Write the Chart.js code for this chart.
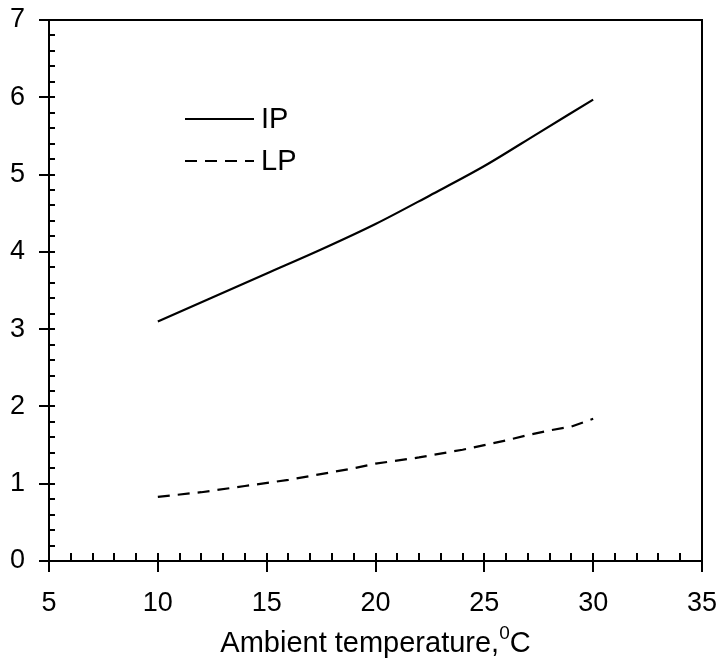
<!DOCTYPE html>
<html>
<head>
<meta charset="utf-8">
<script src="https://cdn.jsdelivr.net/npm/chart.js@4/dist/chart.umd.min.js"></script>
<style>
    html, body { margin: 0; padding: 0; background: #fff; }
    #wrap { width: 721px; height: 659px; }
</style>
</head>
<body>
<div id="wrap"><canvas id="tempChart" width="721" height="659"></canvas></div>
<script>
// values
const ipTemps = [10, 12.5, 15, 17.5, 20, 22.5, 25, 27.5, 30];
const ipValues = [3.10, 3.41, 3.72, 4.03, 4.36, 4.73, 5.11, 5.54, 5.97];

const lpTemps = [10, 12, 14, 16, 18, 19, 20, 22, 24, 25, 26, 27, 28, 29, 30];
const lpValues = [0.83, 0.89, 0.97, 1.05, 1.15, 1.20, 1.26, 1.34, 1.44, 1.50, 1.56, 1.63, 1.69, 1.74, 1.84];

const xTicks = [5, 10, 15, 20, 25, 30, 35];
const yTicks = [0, 1, 2, 3, 4, 5, 6, 7];
const seriesLabels = ["IP", "LP"];
const xTitle = ["Ambient temperature,", "0", "C"];

const FONT = "'Liberation Sans', Arial, sans-serif";

// frame, inward minor ticks, crossing major ticks
const frameTicks = {
    id: "frameTicks",
    afterDraw(chart) {
        const { ctx, chartArea: a, scales: { x, y } } = chart;
        ctx.save();
        ctx.strokeStyle = "#000";
        ctx.lineWidth = 2;
        ctx.beginPath();
        ctx.moveTo(a.left, a.bottom + 11);
        ctx.lineTo(a.left, a.top);
        ctx.lineTo(a.right, a.top);
        ctx.lineTo(a.right, a.bottom + 11);
        ctx.moveTo(a.left - 10, a.bottom);
        ctx.lineTo(a.right, a.bottom);
        ctx.stroke();

        ctx.beginPath();
        for (let v = x.min; v <= x.max; v += 1) {
            const px = Math.round(x.getPixelForValue(v));
            const major = v % 5 === 0;
            ctx.moveTo(px, a.bottom - 8);
            ctx.lineTo(px, a.bottom + (major ? 11 : 0));
        }
        for (let i = 0; i <= 35; i++) {
            const v = i * 0.2;
            const py = Math.round(y.getPixelForValue(v));
            const major = i % 5 === 0;
            ctx.moveTo(a.left + 6, py);
            ctx.lineTo(a.left - (major ? 10 : 0), py);
        }
        ctx.stroke();

        // axis title with raised 0
        ctx.fillStyle = "#000";
        ctx.textBaseline = "alphabetic";
        ctx.textAlign = "left";
        const big = "29px " + FONT, small = "19px " + FONT;
        ctx.font = big;
        const w1 = ctx.measureText(xTitle[0]).width;
        const w3 = ctx.measureText(xTitle[2]).width;
        ctx.font = small;
        const w2 = ctx.measureText(xTitle[1]).width;
        let tx = (a.left + a.right) / 2 - (w1 + w2 + w3) / 2;
        const base = 652;
        ctx.font = big;
        ctx.fillText(xTitle[0], tx, base);
        tx += w1;
        ctx.font = small;
        ctx.fillText(xTitle[1], tx, base - 13);
        tx += w2;
        ctx.font = big;
        ctx.fillText(xTitle[2], tx, base);

        // legend inside the plot
        const rows = [119, 161];
        chart.data.datasets.forEach((ds, i) => {
            ctx.beginPath();
            ctx.lineWidth = 2;
            ctx.setLineDash(ds.borderDash || []);
            ctx.moveTo(185, rows[i]);
            ctx.lineTo(254, rows[i]);
            ctx.stroke();
            ctx.setLineDash([]);
            ctx.font = "29px " + FONT;
            ctx.textBaseline = "middle";
            ctx.fillText(ds.label, 261, rows[i] + 1);
        });
        ctx.restore();
    }
};

const ctx = document.getElementById("tempChart").getContext("2d");
new Chart(ctx, {
    type: "line",
    data: {
        datasets: [
            {
                label: seriesLabels[0],
                data: ipTemps.map((t, i) => ({ x: t, y: ipValues[i] })),
                borderColor: "#000",
                borderWidth: 2.2,
                pointRadius: 0,
                fill: false,
                cubicInterpolationMode: "monotone"
            },
            {
                label: seriesLabels[1],
                data: lpTemps.map((t, i) => ({ x: t, y: lpValues[i] })),
                borderColor: "#000",
                borderWidth: 2.2,
                borderDash: [12, 8],
                pointRadius: 0,
                fill: false
            }
        ]
    },
    options: {
        responsive: false,
        animation: false,
        layout: { padding: { top: 20, right: 19, left: 0, bottom: 0 } },
        plugins: {
            legend: { display: false },
            tooltip: { enabled: false }
        },
        scales: {
            x: {
                type: "linear",
                min: 5,
                max: 35,
                afterBuildTicks: s => { s.ticks = xTicks.map(v => ({ value: v })); },
                afterFit: s => { s.height = 98; s.paddingLeft = 0; s.paddingRight = 0; },
                grid: { display: false },
                border: { display: false },
                ticks: { color: "#000", font: { family: FONT, size: 27 }, padding: 18, maxRotation: 0 }
            },
            y: {
                type: "linear",
                min: 0,
                max: 7,
                afterBuildTicks: s => { s.ticks = yTicks.map(v => ({ value: v })); },
                afterFit: s => { s.width = 49; s.paddingTop = 0; s.paddingBottom = 0; },
                grid: { display: false },
                border: { display: false },
                ticks: { color: "#000", font: { family: FONT, size: 27 }, padding: 16 }
            }
        }
    },
    plugins: [frameTicks]
});
</script>
</body>
</html>
